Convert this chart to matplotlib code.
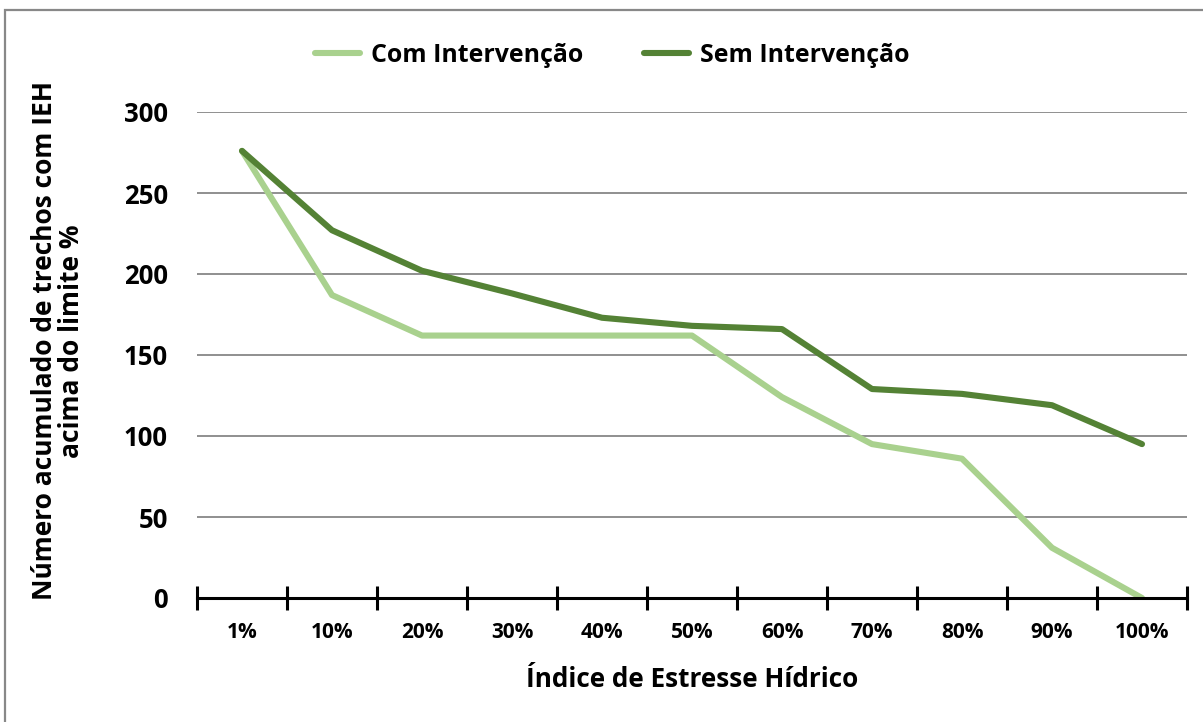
import matplotlib
matplotlib.use("Agg")
import matplotlib.pyplot as plt
from matplotlib.patches import Rectangle

plt.rcParams['font.family'] = ['Open Sans', 'DejaVu Sans']
plt.rcParams['font.weight'] = 'bold'

categories = ["1%", "10%", "20%", "30%", "40%", "50%", "60%", "70%", "80%", "90%", "100%"]
com_intervencao = [276, 187, 162, 162, 162, 162, 124, 95, 86, 31, 0]
sem_intervencao = [276, 227, 202, 188, 173, 168, 166, 129, 126, 119, 95]
yticks = [0, 50, 100, 150, 200, 250, 300]

W, H = 1203, 722
fig = plt.figure(figsize=(W / 100, H / 100), dpi=100)

# chart frame (gray border)
fig.patches.append(Rectangle((5 / W, -0.05), 1.2, (H - 10) / H + 0.05,
                             transform=fig.transFigure, fill=False,
                             edgecolor="#888888", linewidth=1.6))

ax = fig.add_axes([197 / W, 1 - 598 / H, (1187 - 197) / W, (598 - 112) / H])
x = list(range(len(categories)))
ax.plot(x, com_intervencao, color="#A9D18E", lw=4.4, solid_capstyle="round",
        solid_joinstyle="round", label="Com Intervenção", zorder=3)
ax.plot(x, sem_intervencao, color="#548235", lw=4.4, solid_capstyle="round",
        solid_joinstyle="round", label="Sem Intervenção", zorder=4)

ax.set_xlim(-0.5, len(categories) - 0.5)
ax.set_ylim(0, 300)
ax.set_yticks(yticks)
ax.set_yticklabels([str(v) for v in yticks], fontsize=18.5, fontweight="bold")
ax.tick_params(axis="y", length=0, pad=21)
for v in yticks[1:]:
    ax.axhline(v, color="#878787", lw=1.3, zorder=1)

ax.set_xticks([i - 0.5 for i in range(len(categories) + 1)])
ax.set_xticklabels([])
ax.tick_params(axis="x", which="major", direction="inout", length=17, width=2.2, color="black")
ax.set_xticks(x, minor=True)
ax.set_xticklabels(categories, minor=True, fontsize=15, fontweight="bold")
ax.tick_params(axis="x", which="minor", length=0, pad=17.5)

for side in ["top", "right", "left"]:
    ax.spines[side].set_visible(False)
ax.spines["bottom"].set_linewidth(2.2)
ax.spines["bottom"].set_zorder(5)

ax.set_xlabel("Índice de Estresse Hídrico", fontsize=18.8, fontweight="bold", labelpad=16)
fig.text(58 / W, 1 - 341 / H, "Número acumulado de trechos com IEH\nacima do limite %",
         rotation=90, ha="center", va="center", fontsize=19, fontweight="bold",
         linespacing=1.0)

leg = ax.legend(loc="center", bbox_to_anchor=(612 / W, 1 - 55 / H),
                bbox_transform=fig.transFigure, ncol=2, frameon=False,
                fontsize=17.9, handlelength=1.8, handletextpad=0.44, columnspacing=2.45)
for t in leg.get_texts():
    t.set_fontweight("bold")

fig.savefig("out.png", dpi=100)
